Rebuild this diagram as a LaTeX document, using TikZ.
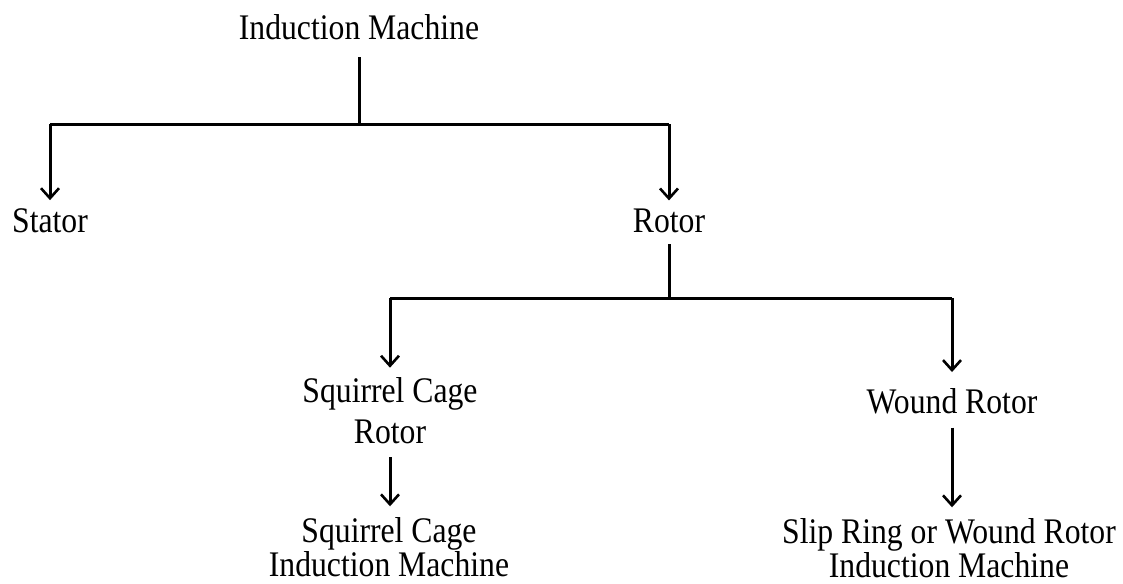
\documentclass[tikz,border=0pt]{standalone}
\usepackage{fontspec}
\setmainfont{Liberation Serif}[FakeStretch=0.88]
\usetikzlibrary{arrows.meta}
\begin{document}
\begin{tikzpicture}[x=1pt,y=-1pt,
  lbl/.style={inner sep=0pt,outer sep=0pt,align=center,anchor=base,
    font=\fontsize{36}{30}\selectfont},
  conn/.style={line width=3pt,line cap=butt},
  arr/.style={conn,-{Straight Barb[length=10pt,width=18pt,line width=2.6pt]}}]
\useasboundingbox (0,0) rectangle (1123,583);
% nodes (base anchor = baseline of last line)
\node[lbl] (im)   at (359,40)  {Induction Machine};
\node[lbl] (st)   at (50,232)  {Stator};
\node[lbl] (ro)   at (669,232) {Rotor};
\node[lbl] (scr)  at (390,443) {Squirrel Cage\\[8pt]Rotor};
\node[lbl] (wr)   at (952,413) {Wound Rotor};
\node[lbl] (scim) at (389,576) {Squirrel Cage\\Induction Machine};
\node[lbl] (srim) at (949,577) {Slip Ring or Wound Rotor\\Induction Machine};
% junctions
\coordinate (j1) at (359,124);
\coordinate (j2) at (669,298);
% connectors
\draw[conn,shorten <=17pt] (im.south) -- (j1);
\draw[conn] (j1 -| st) -- (j1 -| ro);
\draw[arr,shorten >=8pt] (j1 -| st) -- (st.north);
\draw[arr,shorten >=8pt] (j1 -| ro) -- (ro.north);
\draw[conn,shorten <=12pt] (ro.south) -- (j2);
\draw[conn] (j2 -| scr) -- (j2 -| wr);
\draw[arr,shorten >=10pt] (j2 -| scr) -- (scr.north);
\draw[arr,shorten >=16pt] (j2 -| wr) -- (wr.north);
\draw[arr,shorten <=14pt,shorten >=11pt] (scr.south) -- (scr.south |- scim.north);
\draw[arr,shorten <=14pt,shorten >=11pt] (wr.south) -- (wr.south |- srim.north);
\end{tikzpicture}
\end{document}
